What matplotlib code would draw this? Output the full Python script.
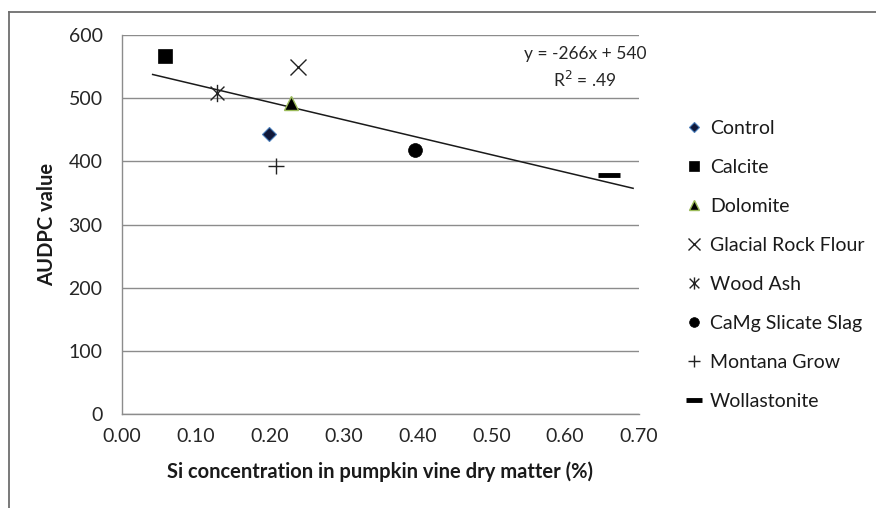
import matplotlib
matplotlib.use("Agg")
import matplotlib.pyplot as plt
from matplotlib.path import Path
from matplotlib.lines import Line2D
import numpy as np

plt.rcParams['font.family'] = ['Lato', 'DejaVu Sans']

# values
treatments = ['Control', 'Calcite', 'Dolomite', 'Glacial Rock Flour', 'Wood Ash',
              'CaMg Slicate Slag', 'Montana Grow', 'Wollastonite']
si_conc = [0.199, 0.058, 0.229, 0.238, 0.129, 0.397, 0.209, 0.660]
audpc = [443, 567, 493, 550, 508, 418, 393, 378]

# trendline as drawn in the picture
trend_slope = -277
trend_intercept = 549
trend_x = [0.0415, 0.692]
eq_label = 'y = -266x + 540\nR$^2$ = .49'

x_ticks = [0.0, 0.1, 0.2, 0.3, 0.4, 0.5, 0.6, 0.7]
y_ticks = [0, 100, 200, 300, 400, 500, 600]

# excel-like star: an x with a vertical bar
star = Path([(-1, -1), (1, 1), (-1, 1), (1, -1), (0, -1.25), (0, 1.25)],
            [Path.MOVETO, Path.LINETO, Path.MOVETO, Path.LINETO, Path.MOVETO, Path.LINETO])

styles = [
    dict(marker='D', ms=7, mfc='#10183a', mec='#4a7ebb', mew=0.8),
    dict(marker='s', ms=10.5, mfc='black', mec='black', mew=0.5),
    dict(marker='^', ms=10, mfc='black', mec='#9bbb59', mew=1),
    dict(marker='x', ms=11.5, mfc='none', mec='#222222', mew=1),
    dict(marker=star, ms=12.5, mfc='none', mec='#222222', mew=1),
    dict(marker='o', ms=10, mfc='black', mec='black', mew=0.5),
    dict(marker='+', ms=12, mfc='none', mec='#222222', mew=1),
    dict(marker='_', ms=16, mfc='black', mec='black', mew=3.5),
]

fig = plt.figure(figsize=(8.76, 5.08), dpi=100)
ax = fig.add_axes([122 / 876, 1 - 414 / 508, (639 - 122) / 876, (414 - 35) / 508])

for name, x, y, st in zip(treatments, si_conc, audpc, styles):
    ax.plot([x], [y], linestyle='none', label=name, zorder=3, **st)

tx = np.array(trend_x)
ax.plot(tx, trend_slope * tx + trend_intercept, color='#1a1a1a', lw=1.1, zorder=2)

ax.text(0.627, 548, eq_label, ha='center', va='center', fontsize=12.5,
        color='#262626', linespacing=1.5)

ax.set_xlim(0, 0.7)
ax.set_ylim(0, 600)
ax.set_xticks(x_ticks)
ax.set_xticklabels([f'{v:.2f}' for v in x_ticks])
ax.set_yticks(y_ticks)
ax.tick_params(length=0, labelsize=14, colors='#262626')
ax.tick_params(axis='x', pad=10)
ax.tick_params(axis='y', pad=14)
ax.grid(axis='y', color='#8c8c8c', lw=1)
ax.set_axisbelow(True)
for s in ['top', 'right']:
    ax.spines[s].set_visible(False)
for s in ['left', 'bottom']:
    ax.spines[s].set_color('#8c8c8c')
    ax.spines[s].set_linewidth(1)

ax.set_xlabel('Si concentration in pumpkin vine dry matter (%)', fontsize=14.5,
              fontweight='bold', color='#1a1a1a', labelpad=12)
ax.set_ylabel('AUDPC value', fontsize=14.5, fontweight='bold', color='#1a1a1a', labelpad=8)

leg = fig.legend(loc='upper left', bbox_to_anchor=(675 / 876, 1 - 110 / 508),
                 frameon=False, fontsize=14, handlelength=1.0, handletextpad=0.3,
                 labelspacing=1.13, borderpad=0, markerscale=0.7)
for t in leg.get_texts():
    t.set_color('#1a1a1a')

# outer chart frame
fig.add_artist(Line2D([9 / 876, 9 / 876], [0, 1 - 12 / 508], color='#6e6e6e', lw=1.3))
fig.add_artist(Line2D([9 / 876, 1], [1 - 12 / 508, 1 - 12 / 508], color='#6e6e6e', lw=1.3))

fig.savefig('out.png', dpi=100)
